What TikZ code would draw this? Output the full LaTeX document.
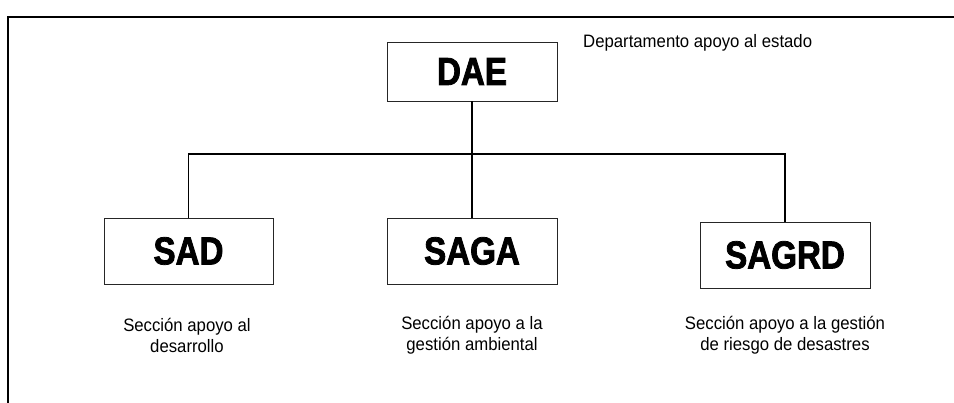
\documentclass[tikz,border=0pt]{standalone}
\usepackage{fontspec}
\setmainfont{Liberation Sans}[FakeStretch=0.93]
\newfontfamily\boxfont{Liberation Sans Bold}[FakeBold=2,FakeStretch=0.85]
\usetikzlibrary{positioning}

\tikzset{
  unitbox/.style={draw=black!85, line width=0.9pt, inner sep=0pt, font=\boxfont\fontsize{39}{39}\selectfont},
  unitnote/.style={align=center, inner sep=0pt, font=\fontsize{18}{21}\selectfont}
}

\begin{document}
\begin{tikzpicture}[x=1pt,y=1pt]
      \useasboundingbox (0,0) rectangle (954,-403);
      % frame
      \draw[line width=2pt] (954,-17) -- (8,-17) -- (8,-403);

      % boxes
      \node[unitbox, minimum width=170pt, minimum height=59pt] (dae) at (472,-71.5) {DAE};
      \node[unitbox, minimum width=169pt, minimum height=66pt] (sad) at (188.5,-251) {SAD};
      \node[unitbox, minimum width=170pt, minimum height=66pt] (saga) at (472,-251) {SAGA};
      \node[unitbox, minimum width=170pt, minimum height=66pt] (sagrd) at (785,-255) {SAGRD};

      % connectors
      \coordinate (bar) at (472,-154); % branch point
      \draw[line width=1.2pt] (dae.south) -- (saga.north);
      \draw[line width=1.2pt] (sad.north) |- (bar) -| (sagrd.north);

      % labels
      \node[unitnote, anchor=west] (daenote) at (583,-43) {Departamento apoyo al estado};
      \node[unitnote] (sadnote) at (187,-335) {Sección apoyo al\\desarrollo};
      \node[unitnote] (saganote) at (472,-335) {Sección apoyo a la\\gestión ambiental};
      \node[unitnote] (sagrdnote) at (785,-335) {Sección apoyo a la gestión\\de riesgo de desastres};
    \end{tikzpicture}
\end{document}
